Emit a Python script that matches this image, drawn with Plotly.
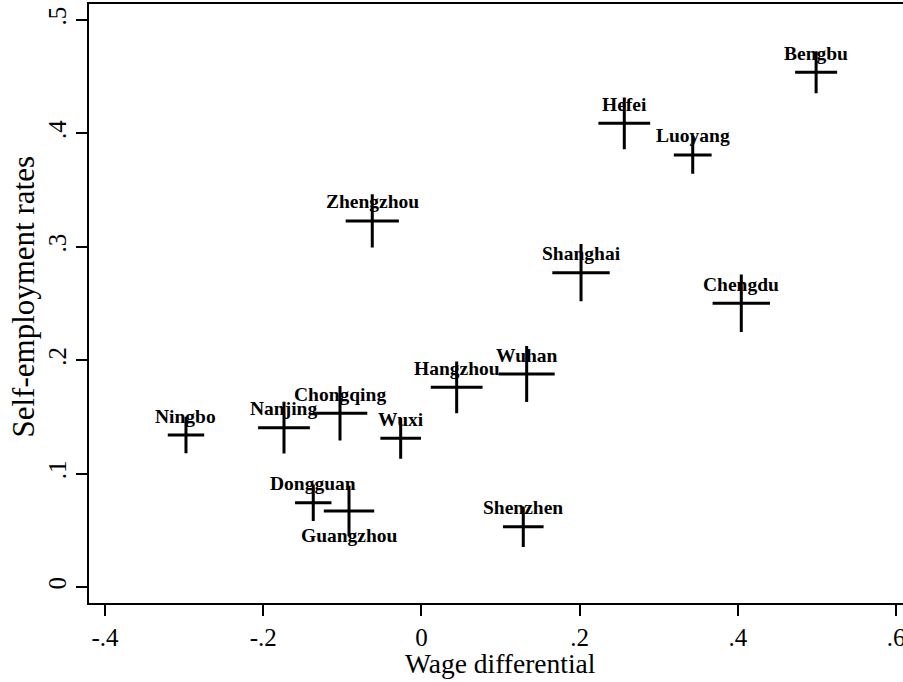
import plotly.graph_objects as go

cities = ["Bengbu", "Hefei", "Luoyang", "Shanghai", "Chengdu", "Zhengzhou",
          "Hangzhou", "Wuhan", "Ningbo", "Nanjing", "Chongqing", "Wuxi",
          "Dongguan", "Guangzhou", "Shenzhen"]
wage_diff = [0.499, 0.2565, 0.343, 0.2018, 0.4044, -0.0621,
             0.0446, 0.1331, -0.2976, -0.1737, -0.1029, -0.0262,
             -0.1367, -0.0915, 0.1288]
self_emp = [0.4539, 0.4089, 0.381, 0.2772, 0.2502, 0.3228,
            0.1761, 0.1878, 0.134, 0.1405, 0.1532, 0.1311,
            0.0743, 0.067, 0.0532]
# marker weights (drawn symbol size)
weights = [30, 37, 27, 41, 41, 38, 37, 40, 26, 37, 39, 29, 26, 36, 29]
label_below = ["Guangzhou"]

x_ticks = [-0.4, -0.2, 0, 0.2, 0.4, 0.6]
x_ticktext = ["-.4", "-.2", "0", ".2", ".4", ".6"]
y_ticks = [0, 0.1, 0.2, 0.3, 0.4, 0.5]
y_ticktext = ["0", ".1", ".2", ".3", ".4", ".5"]

SERIF = "Liberation Serif, Times New Roman, serif"

fig = go.Figure()
fig.add_trace(go.Scatter(
    x=wage_diff, y=self_emp, mode="markers",
    marker=dict(symbol="cross-thin", size=weights, opacity=1,
                line=dict(width=3, color="black"), color="black"),
    hoverinfo="text", text=cities, showlegend=False,
))

for c, xv, yv in zip(cities, wage_diff, self_emp):
    fig.add_annotation(
        x=xv, y=yv, text=c, showarrow=False,
        xanchor="center", yanchor="middle",
        yshift=-24 if c in label_below else 19,
        font=dict(family=SERIF, size=19.5, color="black", weight="bold"),
    )

# axis titles (the plot area runs past the right edge of the 903px window,
# so the x title is centred on the visible axis span by data coordinate)
fig.add_annotation(x=0.1, y=0.0, xref="x", yref="paper",
                   text="Wage differential", showarrow=False,
                   xanchor="center", yanchor="middle", yshift=-60,
                   font=dict(family=SERIF, size=27.5, color="black"))
fig.add_annotation(x=0.0, y=0.5, xref="paper", yref="paper",
                   text="Self-employment rates", showarrow=False, textangle=-90,
                   xanchor="center", yanchor="middle", xshift=-66, yshift=7,
                   font=dict(family=SERIF, size=31, color="black"))

fig.update_layout(
    width=915, height=682,
    margin=dict(l=89, r=0, t=4, b=79),
    paper_bgcolor="white", plot_bgcolor="white",
    font=dict(family=SERIF, color="black"),
    xaxis=dict(
        range=[-0.4202, 0.6240], tickvals=x_ticks, ticktext=x_ticktext,
        ticks="outside", ticklen=11, tickwidth=1.5, tickcolor="black",
        showline=True, linewidth=2, linecolor="black", mirror=True,
        showgrid=False, zeroline=False, automargin=False,
        tickfont=dict(family=SERIF, size=25, color="black"),
    ),
    yaxis=dict(
        range=[-0.0141, 0.5141], tickvals=y_ticks, ticktext=y_ticktext,
        ticks="outside", ticklen=11, tickwidth=1.5, tickcolor="black",
        tickangle=-90,
        showline=True, linewidth=2, linecolor="black", mirror=False,
        showgrid=False, zeroline=False, automargin=False,
        tickfont=dict(family=SERIF, size=25, color="black"),
    ),
)

fig.write_html("out.html",
               config={"displayModeBar": False},
               post_script="document.body.style.margin='0';"
                           "document.body.style.overflow='hidden';"
                           "document.documentElement.style.overflow='hidden';")
